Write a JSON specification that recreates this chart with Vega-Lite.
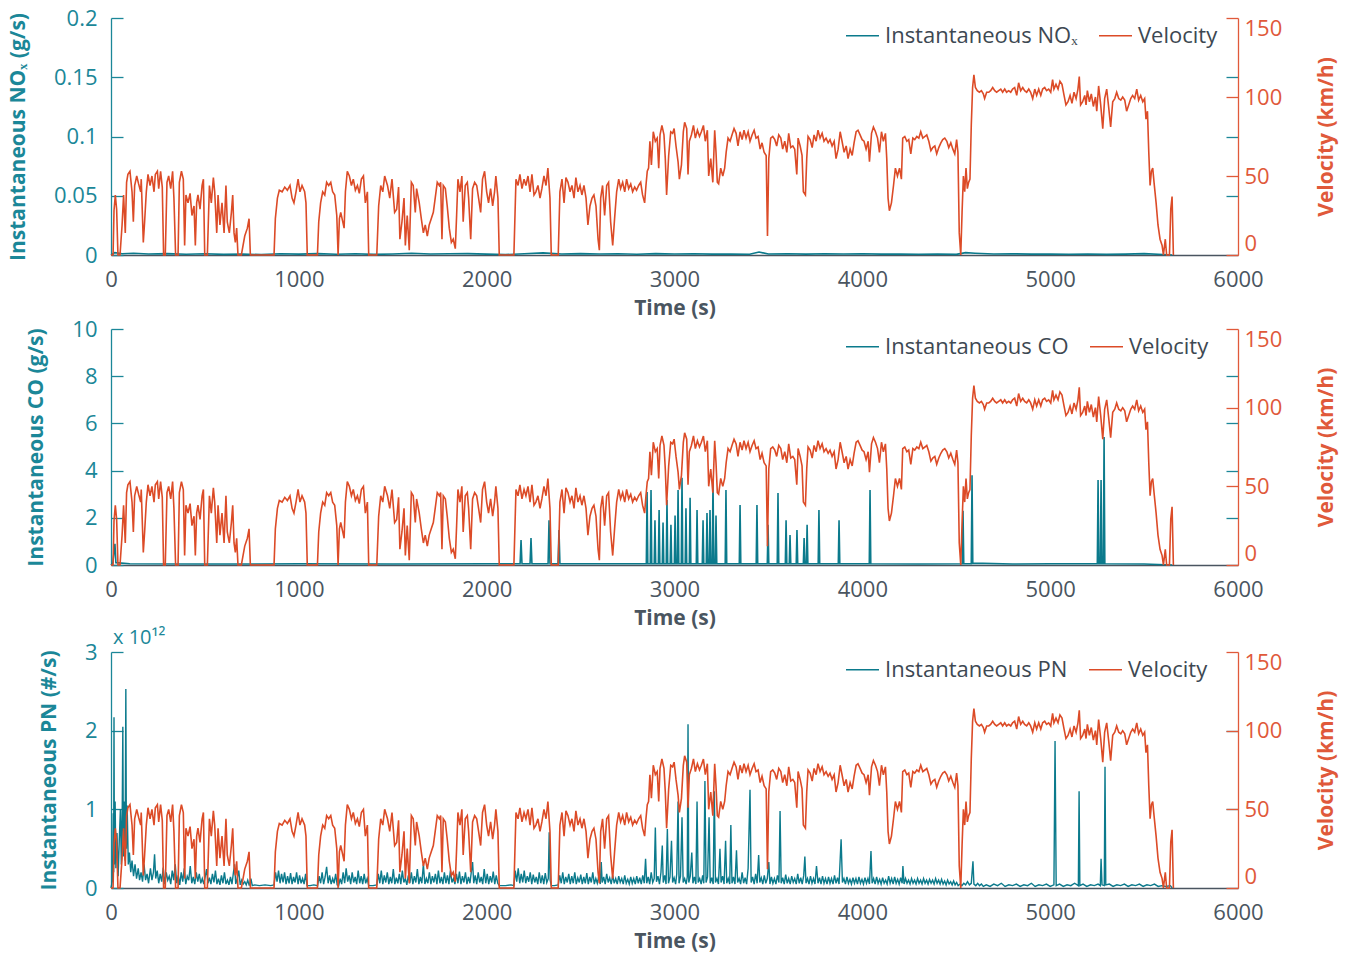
{
  "$schema": "https://vega.github.io/schema/vega-lite/v6.json",
  "background": "white",
  "padding": {"left": 7, "top": 7, "right": 5, "bottom": 5},
  "spacing": 0,
  "resolve": {"scale": {"color": "independent"}, "legend": {"color": "independent"}},
  "config": {
    "font": "Open Sans",
    "view": {"stroke": null},
    "axis": {"grid": false, "labelFont": "Open Sans", "labelFontSize": 22, "titleFont": "Open Sans", "titleFontSize": 21, "titleFontWeight": "bold", "domainWidth": 1.3, "tickWidth": 1.3},
    "axisX": {"format": "d", "ticks": false, "labelFlush": false, "labelPadding": 14, "titlePadding": 7, "domainColor": "#4a5560", "labelColor": "#4a5560", "titleColor": "#4a5560"},
    "legend": {"labelFont": "Open Sans", "orient": "none", "legendX": 734, "legendY": 0, "direction": "horizontal", "title": null, "symbolType": "stroke", "symbolSize": 1089, "symbolStrokeWidth": 1.5, "labelFontSize": 22, "labelColor": "#3d4852", "labelOffset": 5, "columnPadding": 18, "padding": 0, "labelLimit": 0},
    "title": {"font": "Open Sans"}
  },
  "datasets": {
    "vel": [
      {"t":0,"v":0},{"t":5,"v":0},{"t":11,"v":0},{"t":16,"v":28},{"t":23,"v":38},{"t":30,"v":29},{"t":37,"v":0},{"t":48,"v":0},{"t":59,"v":19},{"t":67,"v":38},{"t":76,"v":14},{"t":83,"v":46},{"t":90,"v":51},{"t":101,"v":53},{"t":112,"v":40},{"t":119,"v":21},{"t":126,"v":44},{"t":137,"v":50},{"t":147,"v":45},{"t":158,"v":40},{"t":161,"v":48},{"t":172,"v":8},{"t":179,"v":21},{"t":188,"v":40},{"t":197,"v":51},{"t":208,"v":44},{"t":218,"v":50},{"t":229,"v":40},{"t":236,"v":51},{"t":247,"v":53},{"t":254,"v":42},{"t":264,"v":53},{"t":273,"v":43},{"t":280,"v":0},{"t":289,"v":0},{"t":298,"v":46},{"t":307,"v":50},{"t":318,"v":42},{"t":328,"v":53},{"t":335,"v":36},{"t":344,"v":0},{"t":357,"v":0},{"t":364,"v":46},{"t":375,"v":53},{"t":385,"v":48},{"t":392,"v":6},{"t":399,"v":38},{"t":410,"v":33},{"t":421,"v":39},{"t":431,"v":25},{"t":442,"v":31},{"t":449,"v":6},{"t":456,"v":33},{"t":463,"v":38},{"t":474,"v":29},{"t":485,"v":44},{"t":492,"v":48},{"t":499,"v":0},{"t":513,"v":0},{"t":524,"v":44},{"t":534,"v":33},{"t":545,"v":49},{"t":552,"v":40},{"t":563,"v":14},{"t":570,"v":38},{"t":580,"v":19},{"t":591,"v":33},{"t":602,"v":14},{"t":612,"v":44},{"t":619,"v":21},{"t":630,"v":14},{"t":641,"v":27},{"t":648,"v":38},{"t":655,"v":14},{"t":662,"v":8},{"t":669,"v":17},{"t":676,"v":0},{"t":694,"v":0},{"t":712,"v":12},{"t":726,"v":17},{"t":735,"v":23},{"t":742,"v":0},{"t":868,"v":0},{"t":875,"v":23},{"t":886,"v":36},{"t":896,"v":41},{"t":911,"v":40},{"t":925,"v":43},{"t":939,"v":41},{"t":953,"v":44},{"t":964,"v":36},{"t":974,"v":33},{"t":985,"v":40},{"t":996,"v":48},{"t":1006,"v":40},{"t":1017,"v":44},{"t":1031,"v":40},{"t":1038,"v":33},{"t":1045,"v":0},{"t":1099,"v":0},{"t":1106,"v":21},{"t":1116,"v":33},{"t":1127,"v":40},{"t":1138,"v":38},{"t":1148,"v":46},{"t":1159,"v":44},{"t":1170,"v":46},{"t":1180,"v":40},{"t":1191,"v":38},{"t":1202,"v":25},{"t":1209,"v":0},{"t":1216,"v":23},{"t":1223,"v":27},{"t":1234,"v":21},{"t":1241,"v":17},{"t":1248,"v":40},{"t":1258,"v":53},{"t":1269,"v":50},{"t":1280,"v":44},{"t":1290,"v":48},{"t":1301,"v":41},{"t":1312,"v":44},{"t":1322,"v":39},{"t":1333,"v":48},{"t":1344,"v":50},{"t":1354,"v":33},{"t":1365,"v":40},{"t":1372,"v":0},{"t":1415,"v":0},{"t":1425,"v":31},{"t":1436,"v":44},{"t":1447,"v":40},{"t":1457,"v":50},{"t":1472,"v":44},{"t":1484,"v":36},{"t":1496,"v":48},{"t":1510,"v":27},{"t":1521,"v":29},{"t":1531,"v":43},{"t":1538,"v":10},{"t":1549,"v":21},{"t":1560,"v":36},{"t":1567,"v":6},{"t":1577,"v":25},{"t":1588,"v":3},{"t":1599,"v":46},{"t":1609,"v":44},{"t":1620,"v":27},{"t":1627,"v":42},{"t":1641,"v":33},{"t":1652,"v":23},{"t":1663,"v":14},{"t":1673,"v":19},{"t":1684,"v":12},{"t":1694,"v":19},{"t":1705,"v":23},{"t":1716,"v":27},{"t":1726,"v":36},{"t":1737,"v":46},{"t":1748,"v":44},{"t":1755,"v":46},{"t":1762,"v":10},{"t":1769,"v":44},{"t":1780,"v":42},{"t":1790,"v":31},{"t":1801,"v":17},{"t":1812,"v":8},{"t":1822,"v":10},{"t":1833,"v":4},{"t":1840,"v":25},{"t":1847,"v":48},{"t":1858,"v":40},{"t":1868,"v":50},{"t":1875,"v":21},{"t":1886,"v":44},{"t":1897,"v":46},{"t":1904,"v":36},{"t":1915,"v":10},{"t":1925,"v":42},{"t":1936,"v":46},{"t":1947,"v":44},{"t":1957,"v":36},{"t":1968,"v":27},{"t":1978,"v":48},{"t":1989,"v":53},{"t":2000,"v":40},{"t":2010,"v":33},{"t":2021,"v":42},{"t":2032,"v":31},{"t":2042,"v":40},{"t":2049,"v":50},{"t":2060,"v":36},{"t":2067,"v":0},{"t":2145,"v":0},{"t":2156,"v":48},{"t":2167,"v":44},{"t":2177,"v":51},{"t":2188,"v":42},{"t":2199,"v":48},{"t":2209,"v":44},{"t":2220,"v":50},{"t":2231,"v":40},{"t":2241,"v":51},{"t":2252,"v":38},{"t":2262,"v":40},{"t":2273,"v":44},{"t":2284,"v":36},{"t":2294,"v":42},{"t":2305,"v":50},{"t":2316,"v":44},{"t":2326,"v":55},{"t":2337,"v":36},{"t":2344,"v":0},{"t":2381,"v":0},{"t":2390,"v":40},{"t":2401,"v":48},{"t":2412,"v":33},{"t":2422,"v":49},{"t":2433,"v":46},{"t":2444,"v":40},{"t":2454,"v":44},{"t":2465,"v":36},{"t":2475,"v":49},{"t":2486,"v":40},{"t":2497,"v":44},{"t":2507,"v":38},{"t":2518,"v":44},{"t":2529,"v":36},{"t":2539,"v":19},{"t":2550,"v":31},{"t":2561,"v":36},{"t":2571,"v":38},{"t":2582,"v":31},{"t":2593,"v":10},{"t":2600,"v":3},{"t":2607,"v":36},{"t":2617,"v":44},{"t":2628,"v":25},{"t":2639,"v":44},{"t":2649,"v":46},{"t":2660,"v":21},{"t":2671,"v":6},{"t":2681,"v":23},{"t":2692,"v":40},{"t":2703,"v":48},{"t":2713,"v":42},{"t":2724,"v":46},{"t":2735,"v":40},{"t":2745,"v":48},{"t":2756,"v":42},{"t":2767,"v":45},{"t":2777,"v":40},{"t":2788,"v":43},{"t":2798,"v":41},{"t":2809,"v":44},{"t":2820,"v":46},{"t":2830,"v":38},{"t":2841,"v":33},{"t":2848,"v":44},{"t":2855,"v":53},{"t":2862,"v":55},{"t":2869,"v":72},{"t":2877,"v":57},{"t":2887,"v":78},{"t":2898,"v":72},{"t":2908,"v":74},{"t":2916,"v":55},{"t":2923,"v":76},{"t":2933,"v":82},{"t":2944,"v":76},{"t":2951,"v":61},{"t":2958,"v":38},{"t":2969,"v":63},{"t":2980,"v":78},{"t":2990,"v":77},{"t":2998,"v":80},{"t":3008,"v":69},{"t":3019,"v":59},{"t":3026,"v":48},{"t":3037,"v":57},{"t":3047,"v":78},{"t":3054,"v":84},{"t":3065,"v":80},{"t":3072,"v":51},{"t":3079,"v":72},{"t":3090,"v":76},{"t":3101,"v":82},{"t":3111,"v":74},{"t":3122,"v":79},{"t":3133,"v":75},{"t":3143,"v":78},{"t":3154,"v":82},{"t":3164,"v":72},{"t":3175,"v":79},{"t":3182,"v":50},{"t":3193,"v":61},{"t":3204,"v":46},{"t":3214,"v":79},{"t":3221,"v":65},{"t":3228,"v":46},{"t":3235,"v":45},{"t":3246,"v":55},{"t":3257,"v":50},{"t":3267,"v":55},{"t":3275,"v":65},{"t":3285,"v":74},{"t":3296,"v":72},{"t":3306,"v":76},{"t":3317,"v":80},{"t":3328,"v":77},{"t":3338,"v":69},{"t":3349,"v":78},{"t":3360,"v":73},{"t":3370,"v":79},{"t":3381,"v":74},{"t":3392,"v":78},{"t":3402,"v":72},{"t":3413,"v":76},{"t":3424,"v":79},{"t":3434,"v":74},{"t":3445,"v":75},{"t":3456,"v":67},{"t":3466,"v":71},{"t":3477,"v":65},{"t":3488,"v":63},{"t":3495,"v":12},{"t":3502,"v":61},{"t":3512,"v":74},{"t":3523,"v":75},{"t":3534,"v":73},{"t":3544,"v":69},{"t":3555,"v":76},{"t":3566,"v":74},{"t":3576,"v":67},{"t":3587,"v":72},{"t":3598,"v":65},{"t":3608,"v":77},{"t":3619,"v":68},{"t":3630,"v":69},{"t":3640,"v":67},{"t":3651,"v":51},{"t":3658,"v":74},{"t":3669,"v":69},{"t":3679,"v":63},{"t":3686,"v":40},{"t":3697,"v":38},{"t":3704,"v":61},{"t":3711,"v":75},{"t":3722,"v":73},{"t":3733,"v":68},{"t":3743,"v":76},{"t":3754,"v":72},{"t":3764,"v":79},{"t":3775,"v":74},{"t":3786,"v":77},{"t":3796,"v":72},{"t":3807,"v":74},{"t":3818,"v":71},{"t":3828,"v":73},{"t":3839,"v":69},{"t":3850,"v":72},{"t":3860,"v":61},{"t":3871,"v":67},{"t":3882,"v":78},{"t":3892,"v":72},{"t":3903,"v":65},{"t":3914,"v":69},{"t":3924,"v":61},{"t":3935,"v":67},{"t":3946,"v":63},{"t":3956,"v":71},{"t":3967,"v":78},{"t":3977,"v":79},{"t":3988,"v":76},{"t":3999,"v":73},{"t":4009,"v":72},{"t":4020,"v":67},{"t":4031,"v":72},{"t":4038,"v":59},{"t":4049,"v":77},{"t":4059,"v":81},{"t":4070,"v":78},{"t":4081,"v":74},{"t":4091,"v":65},{"t":4102,"v":78},{"t":4112,"v":72},{"t":4123,"v":77},{"t":4130,"v":61},{"t":4137,"v":36},{"t":4144,"v":28},{"t":4155,"v":33},{"t":4166,"v":44},{"t":4176,"v":55},{"t":4187,"v":50},{"t":4198,"v":55},{"t":4208,"v":48},{"t":4215,"v":74},{"t":4226,"v":75},{"t":4237,"v":72},{"t":4247,"v":73},{"t":4258,"v":64},{"t":4269,"v":74},{"t":4279,"v":73},{"t":4290,"v":75},{"t":4301,"v":74},{"t":4311,"v":78},{"t":4322,"v":74},{"t":4333,"v":75},{"t":4343,"v":76},{"t":4354,"v":72},{"t":4365,"v":66},{"t":4375,"v":68},{"t":4386,"v":69},{"t":4396,"v":64},{"t":4407,"v":68},{"t":4418,"v":71},{"t":4428,"v":73},{"t":4439,"v":74},{"t":4450,"v":72},{"t":4460,"v":68},{"t":4471,"v":71},{"t":4482,"v":67},{"t":4492,"v":64},{"t":4502,"v":73},{"t":4509,"v":65},{"t":4516,"v":14},{"t":4524,"v":0},{"t":4531,"v":27},{"t":4538,"v":50},{"t":4545,"v":40},{"t":4552,"v":55},{"t":4559,"v":42},{"t":4566,"v":46},{"t":4573,"v":48},{"t":4580,"v":82},{"t":4587,"v":106},{"t":4594,"v":114},{"t":4602,"v":106},{"t":4612,"v":104},{"t":4623,"v":103},{"t":4634,"v":104},{"t":4644,"v":102},{"t":4651,"v":99},{"t":4662,"v":103},{"t":4673,"v":103},{"t":4683,"v":104},{"t":4694,"v":106},{"t":4705,"v":104},{"t":4715,"v":103},{"t":4726,"v":104},{"t":4737,"v":105},{"t":4747,"v":103},{"t":4758,"v":105},{"t":4768,"v":103},{"t":4779,"v":104},{"t":4790,"v":103},{"t":4800,"v":105},{"t":4811,"v":106},{"t":4822,"v":101},{"t":4832,"v":109},{"t":4843,"v":104},{"t":4854,"v":106},{"t":4864,"v":104},{"t":4875,"v":103},{"t":4886,"v":105},{"t":4896,"v":103},{"t":4907,"v":99},{"t":4918,"v":105},{"t":4928,"v":101},{"t":4939,"v":105},{"t":4950,"v":101},{"t":4960,"v":105},{"t":4971,"v":106},{"t":4981,"v":104},{"t":4992,"v":105},{"t":5003,"v":103},{"t":5013,"v":111},{"t":5020,"v":105},{"t":5031,"v":108},{"t":5042,"v":105},{"t":5052,"v":110},{"t":5063,"v":108},{"t":5074,"v":101},{"t":5084,"v":95},{"t":5095,"v":97},{"t":5106,"v":101},{"t":5116,"v":96},{"t":5127,"v":103},{"t":5138,"v":99},{"t":5148,"v":105},{"t":5155,"v":113},{"t":5162,"v":95},{"t":5173,"v":97},{"t":5184,"v":101},{"t":5191,"v":95},{"t":5198,"v":104},{"t":5209,"v":97},{"t":5219,"v":102},{"t":5230,"v":94},{"t":5241,"v":100},{"t":5248,"v":91},{"t":5258,"v":107},{"t":5269,"v":95},{"t":5280,"v":80},{"t":5290,"v":99},{"t":5301,"v":105},{"t":5312,"v":93},{"t":5322,"v":81},{"t":5333,"v":97},{"t":5344,"v":99},{"t":5354,"v":103},{"t":5365,"v":99},{"t":5376,"v":98},{"t":5386,"v":100},{"t":5397,"v":98},{"t":5407,"v":91},{"t":5418,"v":95},{"t":5429,"v":99},{"t":5439,"v":101},{"t":5450,"v":99},{"t":5461,"v":105},{"t":5471,"v":98},{"t":5482,"v":101},{"t":5493,"v":97},{"t":5503,"v":99},{"t":5510,"v":86},{"t":5518,"v":91},{"t":5525,"v":65},{"t":5532,"v":44},{"t":5539,"v":53},{"t":5546,"v":55},{"t":5553,"v":46},{"t":5564,"v":33},{"t":5574,"v":19},{"t":5585,"v":10},{"t":5596,"v":6},{"t":5603,"v":0},{"t":5613,"v":10},{"t":5620,"v":0},{"t":5635,"v":0},{"t":5642,"v":29},{"t":5649,"v":37},{"t":5656,"v":0}
    ],
    "nox": [
      {"t":0,"e":0},{"t":20,"e":0.002},{"t":60,"e":0.001},{"t":120,"e":0.0015},{"t":200,"e":0.0008},{"t":300,"e":0.0012},{"t":400,"e":0.0006},{"t":500,"e":0.001},{"t":600,"e":0.0005},{"t":700,"e":0.0008},{"t":800,"e":0.0003},{"t":900,"e":0.001},{"t":1000,"e":0.0007},{"t":1100,"e":0.0012},{"t":1200,"e":0.0006},{"t":1300,"e":0.001},{"t":1400,"e":0.0005},{"t":1500,"e":0.0009},{"t":1600,"e":0.0015},{"t":1700,"e":0.0008},{"t":1800,"e":0.001},{"t":1900,"e":0.0012},{"t":2000,"e":0.0007},{"t":2100,"e":0.0004},{"t":2200,"e":0.001},{"t":2300,"e":0.0018},{"t":2400,"e":0.0009},{"t":2500,"e":0.0012},{"t":2600,"e":0.0008},{"t":2700,"e":0.001},{"t":2800,"e":0.0006},{"t":2900,"e":0.0012},{"t":3000,"e":0.0008},{"t":3100,"e":0.001},{"t":3200,"e":0.0007},{"t":3300,"e":0.0009},{"t":3400,"e":0.0006},{"t":3450,"e":0.0025},{"t":3500,"e":0.0008},{"t":3600,"e":0.001},{"t":3700,"e":0.0007},{"t":3800,"e":0.0011},{"t":3900,"e":0.0008},{"t":4000,"e":0.001},{"t":4100,"e":0.0007},{"t":4200,"e":0.0009},{"t":4300,"e":0.0006},{"t":4400,"e":0.0008},{"t":4500,"e":0.0005},{"t":4550,"e":0.002},{"t":4600,"e":0.0015},{"t":4700,"e":0.0008},{"t":4800,"e":0.001},{"t":4900,"e":0.0007},{"t":5000,"e":0.0009},{"t":5100,"e":0.0006},{"t":5200,"e":0.0008},{"t":5300,"e":0.0005},{"t":5400,"e":0.0007},{"t":5500,"e":0.0012},{"t":5600,"e":0.0004},{"t":5650,"e":0}
    ],
    "co": [
      {"t":0,"e":0},{"t":10,"e":0.1},{"t":21,"e":0.9},{"t":26,"e":0.1},{"t":100,"e":0.05},{"t":500,"e":0.04},{"t":1000,"e":0.05},{"t":1500,"e":0.04},{"t":2000,"e":0.05},{"t":2178,"e":0.05},{"t":2183,"e":1.06},{"t":2188,"e":0.05},{"t":2231,"e":0.05},{"t":2236,"e":1.14},{"t":2241,"e":0.05},{"t":2327,"e":0.05},{"t":2332,"e":1.9},{"t":2337,"e":0.05},{"t":2380,"e":0.05},{"t":2385,"e":1.48},{"t":2390,"e":0.05},{"t":2700,"e":0.05},{"t":2850,"e":0.05},{"t":2854,"e":3.09},{"t":2858,"e":0.05},{"t":2871,"e":0.05},{"t":2875,"e":3.18},{"t":2879,"e":0.05},{"t":2892,"e":0.05},{"t":2896,"e":1.9},{"t":2900,"e":0.05},{"t":2914,"e":0.05},{"t":2918,"e":2.33},{"t":2922,"e":0.05},{"t":2935,"e":0.05},{"t":2939,"e":1.8},{"t":2943,"e":0.05},{"t":2956,"e":0.05},{"t":2960,"e":2.75},{"t":2964,"e":0.05},{"t":2977,"e":0.05},{"t":2981,"e":1.7},{"t":2985,"e":0.05},{"t":2999,"e":0.05},{"t":3003,"e":2.1},{"t":3007,"e":0.05},{"t":3015,"e":0.05},{"t":3019,"e":3.18},{"t":3023,"e":0.05},{"t":3036,"e":0.05},{"t":3040,"e":3.7},{"t":3044,"e":0.05},{"t":3057,"e":0.05},{"t":3061,"e":2.4},{"t":3065,"e":0.05},{"t":3079,"e":0.05},{"t":3083,"e":2.85},{"t":3087,"e":0.05},{"t":3116,"e":0.05},{"t":3120,"e":2.33},{"t":3124,"e":0.05},{"t":3148,"e":0.05},{"t":3152,"e":1.9},{"t":3156,"e":0.05},{"t":3169,"e":0.05},{"t":3173,"e":2.2},{"t":3177,"e":0.05},{"t":3185,"e":0.05},{"t":3189,"e":2.33},{"t":3193,"e":0.05},{"t":3201,"e":0.05},{"t":3205,"e":3.6},{"t":3209,"e":0.05},{"t":3217,"e":0.05},{"t":3221,"e":2.1},{"t":3225,"e":0.05},{"t":3270,"e":0.05},{"t":3274,"e":3.18},{"t":3278,"e":0.05},{"t":3345,"e":0.05},{"t":3349,"e":2.54},{"t":3353,"e":0.05},{"t":3435,"e":0.05},{"t":3439,"e":2.54},{"t":3443,"e":0.05},{"t":3494,"e":0.05},{"t":3498,"e":1.7},{"t":3502,"e":0.05},{"t":3547,"e":0.05},{"t":3551,"e":3.05},{"t":3555,"e":0.05},{"t":3590,"e":0.05},{"t":3594,"e":1.9},{"t":3598,"e":0.05},{"t":3611,"e":0.05},{"t":3615,"e":1.27},{"t":3619,"e":0.05},{"t":3648,"e":0.05},{"t":3652,"e":1.48},{"t":3656,"e":0.05},{"t":3686,"e":0.05},{"t":3690,"e":1.14},{"t":3694,"e":0.05},{"t":3702,"e":0.05},{"t":3706,"e":1.7},{"t":3710,"e":0.05},{"t":3765,"e":0.05},{"t":3769,"e":2.33},{"t":3773,"e":0.05},{"t":3872,"e":0.05},{"t":3876,"e":1.9},{"t":3880,"e":0.05},{"t":4037,"e":0.05},{"t":4041,"e":3.18},{"t":4045,"e":0.05},{"t":4300,"e":0.04},{"t":4532,"e":0.05},{"t":4536,"e":2.3},{"t":4540,"e":0.05},{"t":4580,"e":0.05},{"t":4584,"e":3.8},{"t":4588,"e":0.08},{"t":4800,"e":0.04},{"t":5000,"e":0.05},{"t":5251,"e":0.05},{"t":5255,"e":3.6},{"t":5259,"e":0.05},{"t":5267,"e":0.05},{"t":5271,"e":3.6},{"t":5275,"e":0.05},{"t":5283,"e":0.05},{"t":5287,"e":5.42},{"t":5291,"e":0.05},{"t":5500,"e":0.04},{"t":5650,"e":0}
    ],
    "pn": [
      {"t":0,"e":0},{"t":8,"e":0.1},{"t":12,"e":0.95},{"t":14,"e":0.2},{"t":16,"e":2.17},{"t":18,"e":0.3},{"t":22,"e":1.1},{"t":26,"e":0.25},{"t":32,"e":0.7},{"t":38,"e":0.15},{"t":44,"e":0.6},{"t":50,"e":1.0},{"t":55,"e":0.3},{"t":60,"e":1.05},{"t":63,"e":2.05},{"t":66,"e":0.4},{"t":70,"e":1.1},{"t":75,"e":0.35},{"t":79,"e":2.53},{"t":82,"e":0.5},{"t":86,"e":1.05},{"t":92,"e":0.3},{"t":98,"e":0.45},{"t":105,"e":0.2},{"t":112,"e":0.35},{"t":120,"e":0.15},{"t":128,"e":0.3},{"t":136,"e":0.12},{"t":145,"e":0.25},{"t":152,"e":0.1},{"t":160,"e":0.2},{"t":168,"e":0.08},{"t":176,"e":0.3},{"t":184,"e":0.1},{"t":192,"e":0.18},{"t":200,"e":0.06},{"t":210,"e":0.25},{"t":218,"e":0.1},{"t":226,"e":0.2},{"t":232,"e":0.43},{"t":238,"e":0.12},{"t":246,"e":0.22},{"t":254,"e":0.06},{"t":262,"e":0.18},{"t":270,"e":0.08},{"t":278,"e":0.26},{"t":286,"e":0.05},{"t":294,"e":0.2},{"t":302,"e":0.1},{"t":310,"e":0.15},{"t":318,"e":0.05},{"t":326,"e":0.22},{"t":334,"e":0.1},{"t":342,"e":0.3},{"t":350,"e":0.06},{"t":358,"e":0.16},{"t":366,"e":0.04},{"t":374,"e":0.2},{"t":382,"e":0.08},{"t":390,"e":0.25},{"t":398,"e":0.05},{"t":406,"e":0.15},{"t":414,"e":0.1},{"t":422,"e":0.28},{"t":430,"e":0.06},{"t":438,"e":0.14},{"t":446,"e":0.05},{"t":454,"e":0.2},{"t":462,"e":0.08},{"t":470,"e":0.18},{"t":478,"e":0.06},{"t":486,"e":0.12},{"t":494,"e":0.05},{"t":502,"e":0.15},{"t":509,"e":0.24},{"t":516,"e":0.06},{"t":524,"e":0.13},{"t":532,"e":0.05},{"t":540,"e":0.18},{"t":548,"e":0.07},{"t":556,"e":0.22},{"t":564,"e":0.05},{"t":572,"e":0.12},{"t":580,"e":0.04},{"t":588,"e":0.16},{"t":596,"e":0.06},{"t":604,"e":0.2},{"t":612,"e":0.05},{"t":620,"e":0.1},{"t":628,"e":0.04},{"t":636,"e":0.14},{"t":644,"e":0.05},{"t":652,"e":0.2},{"t":658,"e":0.3},{"t":664,"e":0.05},{"t":672,"e":0.12},{"t":680,"e":0.22},{"t":688,"e":0.04},{"t":696,"e":0.1},{"t":704,"e":0.05},{"t":712,"e":0.08},{"t":720,"e":0.04},{"t":728,"e":0.1},{"t":736,"e":0.03},{"t":745,"e":0.12},{"t":752,"e":0.03},{"t":765,"e":0.04},{"t":790,"e":0.03},{"t":820,"e":0.04},{"t":850,"e":0.03},{"t":868,"e":0.04},{"t":876,"e":0.2},{"t":884,"e":0.08},{"t":892,"e":0.22},{"t":900,"e":0.06},{"t":908,"e":0.18},{"t":916,"e":0.07},{"t":924,"e":0.2},{"t":932,"e":0.05},{"t":940,"e":0.15},{"t":948,"e":0.06},{"t":956,"e":0.19},{"t":964,"e":0.05},{"t":972,"e":0.14},{"t":980,"e":0.07},{"t":988,"e":0.2},{"t":996,"e":0.05},{"t":1004,"e":0.16},{"t":1012,"e":0.06},{"t":1020,"e":0.12},{"t":1028,"e":0.05},{"t":1036,"e":0.18},{"t":1044,"e":0.03},{"t":1060,"e":0.03},{"t":1080,"e":0.04},{"t":1100,"e":0.03},{"t":1108,"e":0.15},{"t":1116,"e":0.06},{"t":1124,"e":0.2},{"t":1132,"e":0.05},{"t":1140,"e":0.14},{"t":1148,"e":0.27},{"t":1156,"e":0.06},{"t":1164,"e":0.16},{"t":1172,"e":0.05},{"t":1180,"e":0.12},{"t":1188,"e":0.06},{"t":1196,"e":0.18},{"t":1204,"e":0.04},{"t":1212,"e":0.03},{"t":1220,"e":0.12},{"t":1228,"e":0.05},{"t":1236,"e":0.2},{"t":1244,"e":0.06},{"t":1252,"e":0.25},{"t":1260,"e":0.08},{"t":1268,"e":0.16},{"t":1276,"e":0.05},{"t":1284,"e":0.2},{"t":1292,"e":0.07},{"t":1300,"e":0.14},{"t":1308,"e":0.05},{"t":1316,"e":0.22},{"t":1324,"e":0.06},{"t":1332,"e":0.15},{"t":1340,"e":0.05},{"t":1348,"e":0.18},{"t":1356,"e":0.06},{"t":1364,"e":0.12},{"t":1372,"e":0.03},{"t":1395,"e":0.03},{"t":1415,"e":0.04},{"t":1423,"e":0.18},{"t":1431,"e":0.06},{"t":1439,"e":0.22},{"t":1447,"e":0.05},{"t":1455,"e":0.16},{"t":1463,"e":0.07},{"t":1471,"e":0.2},{"t":1479,"e":0.05},{"t":1487,"e":0.14},{"t":1495,"e":0.06},{"t":1503,"e":0.24},{"t":1511,"e":0.05},{"t":1519,"e":0.13},{"t":1527,"e":0.06},{"t":1535,"e":0.18},{"t":1543,"e":0.05},{"t":1551,"e":0.22},{"t":1559,"e":0.07},{"t":1567,"e":0.12},{"t":1575,"e":0.04},{"t":1583,"e":0.16},{"t":1591,"e":0.06},{"t":1599,"e":0.2},{"t":1607,"e":0.05},{"t":1615,"e":0.15},{"t":1623,"e":0.07},{"t":1631,"e":0.24},{"t":1639,"e":0.05},{"t":1647,"e":0.14},{"t":1655,"e":0.06},{"t":1663,"e":0.3},{"t":1671,"e":0.05},{"t":1679,"e":0.12},{"t":1687,"e":0.06},{"t":1695,"e":0.2},{"t":1703,"e":0.05},{"t":1711,"e":0.15},{"t":1719,"e":0.07},{"t":1727,"e":0.18},{"t":1735,"e":0.05},{"t":1743,"e":0.22},{"t":1751,"e":0.06},{"t":1759,"e":0.14},{"t":1767,"e":0.05},{"t":1775,"e":0.2},{"t":1783,"e":0.06},{"t":1791,"e":0.16},{"t":1799,"e":0.05},{"t":1807,"e":0.22},{"t":1815,"e":0.07},{"t":1823,"e":0.12},{"t":1831,"e":0.05},{"t":1839,"e":0.18},{"t":1847,"e":0.06},{"t":1855,"e":0.21},{"t":1863,"e":0.05},{"t":1871,"e":0.15},{"t":1879,"e":0.07},{"t":1887,"e":0.2},{"t":1895,"e":0.05},{"t":1903,"e":0.14},{"t":1911,"e":0.06},{"t":1919,"e":0.22},{"t":1925,"e":0.33},{"t":1931,"e":0.06},{"t":1939,"e":0.16},{"t":1947,"e":0.05},{"t":1955,"e":0.2},{"t":1963,"e":0.07},{"t":1971,"e":0.14},{"t":1979,"e":0.05},{"t":1987,"e":0.24},{"t":1995,"e":0.06},{"t":2003,"e":0.18},{"t":2011,"e":0.05},{"t":2019,"e":0.15},{"t":2027,"e":0.07},{"t":2035,"e":0.21},{"t":2043,"e":0.05},{"t":2051,"e":0.16},{"t":2059,"e":0.06},{"t":2067,"e":0.03},{"t":2100,"e":0.03},{"t":2130,"e":0.04},{"t":2145,"e":0.03},{"t":2152,"e":0.22},{"t":2160,"e":0.08},{"t":2168,"e":0.25},{"t":2176,"e":0.06},{"t":2184,"e":0.18},{"t":2192,"e":0.07},{"t":2200,"e":0.22},{"t":2208,"e":0.06},{"t":2216,"e":0.15},{"t":2224,"e":0.08},{"t":2232,"e":0.2},{"t":2240,"e":0.05},{"t":2248,"e":0.17},{"t":2256,"e":0.07},{"t":2264,"e":0.14},{"t":2272,"e":0.05},{"t":2280,"e":0.2},{"t":2288,"e":0.06},{"t":2296,"e":0.16},{"t":2304,"e":0.05},{"t":2312,"e":0.19},{"t":2320,"e":0.07},{"t":2328,"e":0.12},{"t":2333,"e":0.71},{"t":2338,"e":0.1},{"t":2344,"e":0.03},{"t":2360,"e":0.03},{"t":2381,"e":0.04},{"t":2389,"e":0.16},{"t":2397,"e":0.06},{"t":2405,"e":0.2},{"t":2413,"e":0.05},{"t":2421,"e":0.14},{"t":2429,"e":0.07},{"t":2437,"e":0.18},{"t":2445,"e":0.05},{"t":2453,"e":0.15},{"t":2461,"e":0.06},{"t":2469,"e":0.2},{"t":2477,"e":0.05},{"t":2485,"e":0.13},{"t":2493,"e":0.07},{"t":2501,"e":0.17},{"t":2509,"e":0.05},{"t":2517,"e":0.14},{"t":2525,"e":0.06},{"t":2533,"e":0.19},{"t":2541,"e":0.05},{"t":2549,"e":0.14},{"t":2557,"e":0.07},{"t":2565,"e":0.2},{"t":2573,"e":0.05},{"t":2581,"e":0.12},{"t":2589,"e":0.06},{"t":2597,"e":0.15},{"t":2605,"e":0.05},{"t":2610,"e":0.33},{"t":2615,"e":0.07},{"t":2623,"e":0.14},{"t":2631,"e":0.05},{"t":2639,"e":0.18},{"t":2647,"e":0.07},{"t":2655,"e":0.13},{"t":2663,"e":0.05},{"t":2671,"e":0.16},{"t":2679,"e":0.06},{"t":2687,"e":0.12},{"t":2695,"e":0.05},{"t":2703,"e":0.15},{"t":2711,"e":0.07},{"t":2719,"e":0.12},{"t":2727,"e":0.05},{"t":2735,"e":0.16},{"t":2743,"e":0.06},{"t":2751,"e":0.11},{"t":2759,"e":0.05},{"t":2767,"e":0.14},{"t":2775,"e":0.06},{"t":2783,"e":0.12},{"t":2791,"e":0.05},{"t":2799,"e":0.15},{"t":2807,"e":0.06},{"t":2815,"e":0.13},{"t":2823,"e":0.05},{"t":2831,"e":0.16},{"t":2839,"e":0.06},{"t":2846,"e":0.37},{"t":2852,"e":0.06},{"t":2860,"e":0.14},{"t":2868,"e":0.05},{"t":2876,"e":0.2},{"t":2884,"e":0.07},{"t":2892,"e":0.12},{"t":2898,"e":0.77},{"t":2904,"e":0.08},{"t":2912,"e":0.15},{"t":2920,"e":0.05},{"t":2928,"e":0.2},{"t":2935,"e":0.54},{"t":2940,"e":0.07},{"t":2948,"e":0.16},{"t":2955,"e":0.05},{"t":2962,"e":0.75},{"t":2968,"e":0.06},{"t":2976,"e":0.14},{"t":2984,"e":0.6},{"t":2990,"e":0.07},{"t":2998,"e":0.13},{"t":3006,"e":0.05},{"t":3012,"e":0.18},{"t":3019,"e":1.1},{"t":3024,"e":0.06},{"t":3032,"e":0.15},{"t":3040,"e":0.9},{"t":3046,"e":0.07},{"t":3054,"e":0.12},{"t":3062,"e":0.05},{"t":3068,"e":0.14},{"t":3072,"e":2.08},{"t":3076,"e":0.07},{"t":3084,"e":0.15},{"t":3092,"e":0.45},{"t":3098,"e":0.06},{"t":3106,"e":0.14},{"t":3114,"e":0.05},{"t":3120,"e":1.1},{"t":3126,"e":0.07},{"t":3134,"e":0.12},{"t":3142,"e":0.05},{"t":3150,"e":0.16},{"t":3156,"e":0.06},{"t":3162,"e":1.36},{"t":3168,"e":0.07},{"t":3176,"e":0.14},{"t":3184,"e":0.9},{"t":3190,"e":0.06},{"t":3198,"e":0.13},{"t":3206,"e":0.05},{"t":3212,"e":1.23},{"t":3218,"e":0.07},{"t":3226,"e":0.12},{"t":3234,"e":0.05},{"t":3242,"e":0.5},{"t":3248,"e":0.07},{"t":3256,"e":0.15},{"t":3264,"e":0.05},{"t":3272,"e":0.6},{"t":3278,"e":0.06},{"t":3286,"e":0.12},{"t":3294,"e":0.05},{"t":3300,"e":0.8},{"t":3306,"e":0.06},{"t":3314,"e":0.14},{"t":3322,"e":0.05},{"t":3330,"e":0.48},{"t":3336,"e":0.07},{"t":3344,"e":0.12},{"t":3352,"e":0.05},{"t":3360,"e":0.2},{"t":3368,"e":0.06},{"t":3376,"e":0.13},{"t":3384,"e":0.05},{"t":3392,"e":0.25},{"t":3402,"e":1.25},{"t":3408,"e":0.07},{"t":3416,"e":0.14},{"t":3424,"e":0.05},{"t":3432,"e":0.18},{"t":3440,"e":0.06},{"t":3448,"e":0.42},{"t":3454,"e":0.07},{"t":3462,"e":0.13},{"t":3470,"e":0.05},{"t":3478,"e":0.16},{"t":3486,"e":0.06},{"t":3494,"e":0.12},{"t":3502,"e":0.33},{"t":3508,"e":0.05},{"t":3516,"e":0.14},{"t":3524,"e":0.06},{"t":3532,"e":0.12},{"t":3540,"e":0.05},{"t":3548,"e":0.16},{"t":3556,"e":0.07},{"t":3562,"e":0.98},{"t":3568,"e":0.06},{"t":3576,"e":0.13},{"t":3584,"e":0.05},{"t":3592,"e":0.17},{"t":3600,"e":0.06},{"t":3608,"e":0.12},{"t":3616,"e":0.05},{"t":3624,"e":0.15},{"t":3632,"e":0.07},{"t":3640,"e":0.12},{"t":3648,"e":0.05},{"t":3656,"e":0.18},{"t":3664,"e":0.06},{"t":3672,"e":0.13},{"t":3680,"e":0.05},{"t":3688,"e":0.16},{"t":3694,"e":0.4},{"t":3700,"e":0.06},{"t":3708,"e":0.12},{"t":3716,"e":0.05},{"t":3724,"e":0.15},{"t":3732,"e":0.06},{"t":3740,"e":0.12},{"t":3748,"e":0.05},{"t":3756,"e":0.28},{"t":3764,"e":0.06},{"t":3772,"e":0.13},{"t":3780,"e":0.05},{"t":3788,"e":0.15},{"t":3796,"e":0.06},{"t":3804,"e":0.12},{"t":3812,"e":0.05},{"t":3820,"e":0.14},{"t":3828,"e":0.06},{"t":3836,"e":0.12},{"t":3844,"e":0.05},{"t":3852,"e":0.16},{"t":3860,"e":0.06},{"t":3868,"e":0.13},{"t":3876,"e":0.05},{"t":3887,"e":0.62},{"t":3894,"e":0.07},{"t":3902,"e":0.12},{"t":3910,"e":0.05},{"t":3918,"e":0.14},{"t":3926,"e":0.06},{"t":3934,"e":0.11},{"t":3942,"e":0.05},{"t":3950,"e":0.13},{"t":3958,"e":0.06},{"t":3966,"e":0.12},{"t":3974,"e":0.05},{"t":3982,"e":0.14},{"t":3990,"e":0.06},{"t":3998,"e":0.11},{"t":4006,"e":0.05},{"t":4014,"e":0.13},{"t":4022,"e":0.06},{"t":4030,"e":0.12},{"t":4038,"e":0.05},{"t":4046,"e":0.47},{"t":4052,"e":0.06},{"t":4060,"e":0.12},{"t":4068,"e":0.05},{"t":4076,"e":0.14},{"t":4084,"e":0.06},{"t":4092,"e":0.11},{"t":4100,"e":0.05},{"t":4108,"e":0.13},{"t":4116,"e":0.06},{"t":4124,"e":0.1},{"t":4132,"e":0.05},{"t":4140,"e":0.15},{"t":4148,"e":0.06},{"t":4156,"e":0.12},{"t":4164,"e":0.05},{"t":4172,"e":0.14},{"t":4180,"e":0.06},{"t":4188,"e":0.11},{"t":4196,"e":0.05},{"t":4204,"e":0.13},{"t":4212,"e":0.06},{"t":4216,"e":0.28},{"t":4222,"e":0.05},{"t":4230,"e":0.12},{"t":4238,"e":0.06},{"t":4246,"e":0.1},{"t":4254,"e":0.05},{"t":4262,"e":0.12},{"t":4270,"e":0.06},{"t":4278,"e":0.1},{"t":4286,"e":0.05},{"t":4294,"e":0.12},{"t":4302,"e":0.06},{"t":4310,"e":0.1},{"t":4318,"e":0.05},{"t":4326,"e":0.12},{"t":4334,"e":0.06},{"t":4342,"e":0.1},{"t":4350,"e":0.05},{"t":4358,"e":0.11},{"t":4366,"e":0.06},{"t":4374,"e":0.1},{"t":4382,"e":0.05},{"t":4390,"e":0.12},{"t":4398,"e":0.06},{"t":4406,"e":0.1},{"t":4414,"e":0.05},{"t":4422,"e":0.11},{"t":4430,"e":0.05},{"t":4438,"e":0.09},{"t":4446,"e":0.04},{"t":4454,"e":0.1},{"t":4462,"e":0.05},{"t":4470,"e":0.08},{"t":4478,"e":0.04},{"t":4486,"e":0.09},{"t":4494,"e":0.04},{"t":4502,"e":0.07},{"t":4510,"e":0.03},{"t":4520,"e":0.05},{"t":4530,"e":0.03},{"t":4540,"e":0.06},{"t":4550,"e":0.04},{"t":4560,"e":0.08},{"t":4570,"e":0.04},{"t":4580,"e":0.06},{"t":4589,"e":0.34},{"t":4594,"e":0.05},{"t":4604,"e":0.03},{"t":4614,"e":0.06},{"t":4624,"e":0.03},{"t":4634,"e":0.05},{"t":4644,"e":0.02},{"t":4660,"e":0.04},{"t":4680,"e":0.02},{"t":4700,"e":0.05},{"t":4720,"e":0.03},{"t":4740,"e":0.06},{"t":4760,"e":0.02},{"t":4780,"e":0.04},{"t":4800,"e":0.03},{"t":4820,"e":0.05},{"t":4840,"e":0.02},{"t":4860,"e":0.04},{"t":4880,"e":0.03},{"t":4900,"e":0.06},{"t":4920,"e":0.02},{"t":4940,"e":0.04},{"t":4960,"e":0.03},{"t":4980,"e":0.05},{"t":5000,"e":0.02},{"t":5020,"e":0.04},{"t":5026,"e":1.87},{"t":5032,"e":0.03},{"t":5050,"e":0.05},{"t":5070,"e":0.02},{"t":5090,"e":0.04},{"t":5110,"e":0.03},{"t":5130,"e":0.06},{"t":5150,"e":0.03},{"t":5154,"e":1.23},{"t":5158,"e":0.03},{"t":5175,"e":0.05},{"t":5195,"e":0.02},{"t":5215,"e":0.04},{"t":5235,"e":0.03},{"t":5255,"e":0.05},{"t":5267,"e":0.03},{"t":5271,"e":0.37},{"t":5276,"e":0.04},{"t":5288,"e":0.03},{"t":5292,"e":1.54},{"t":5296,"e":0.04},{"t":5315,"e":0.05},{"t":5335,"e":0.02},{"t":5355,"e":0.04},{"t":5375,"e":0.03},{"t":5395,"e":0.05},{"t":5415,"e":0.02},{"t":5435,"e":0.04},{"t":5455,"e":0.03},{"t":5475,"e":0.05},{"t":5495,"e":0.02},{"t":5515,"e":0.04},{"t":5535,"e":0.03},{"t":5555,"e":0.05},{"t":5575,"e":0.02},{"t":5595,"e":0.03},{"t":5615,"e":0.02},{"t":5640,"e":0.03},{"t":5650,"e":0}
    ]
  },
  "vconcat": [
    {
      "width": 1127, "height": 237,
      "resolve": {"scale": {"y": "independent"}},
      "layer": [
        {
          "data": {"name": "nox"},
          "resolve": {"axis": {"y": "independent"}},
          "layer": [
            {
              "mark": {"type": "line", "strokeWidth": 1.6},
              "encoding": {
                "x": {"field": "t", "type": "quantitative", "scale": {"domain": [0, 6000], "nice": false}, "axis": {"title": "Time (s)", "values": [0,1000,2000,3000,4000,5000,6000]}},
                "y": {"field": "e", "type": "quantitative", "scale": {"domain": [0, 0.2], "nice": false},
                  "axis": {"orient": "left", "title": "Instantaneous NOₓ (g/s)", "values": [0,0.05,0.1,0.15,0.2], "format": "~g", "domainColor": "#1b8798", "tickColor": "#1b8798", "labelColor": "#1b8798", "titleColor": "#1b8798", "tickSize": -12, "labelPadding": 26, "titlePadding": 25}},
                "color": {"datum": "Instantaneous NOₓ", "scale": {"domain": ["Instantaneous NOₓ", "Velocity"], "range": ["#0b7a8c", "#dc4b27"]}}
              }
            },
            {
              "mark": {"type": "line", "opacity": 0},
              "encoding": {
                "x": {"field": "t", "type": "quantitative", "scale": {"domain": [0, 6000], "nice": false}, "axis": {"title": "Time (s)", "values": [0,1000,2000,3000,4000,5000,6000]}},
                "y": {"field": "e", "type": "quantitative",
                  "axis": {"orient": "right", "title": null, "labels": false, "domain": false, "values": [0.05,0.1,0.15], "tickColor": "#1b8798", "tickSize": -12, "labelPadding": 0}}
              }
            }
          ]
        },
        {
          "data": {"name": "vel"},
          "mark": {"type": "line", "strokeWidth": 1.6},
          "encoding": {
            "x": {"field": "t", "type": "quantitative", "scale": {"domain": [0, 6000], "nice": false}, "axis": {"title": "Time (s)", "values": [0,1000,2000,3000,4000,5000,6000]}},
            "y": {"field": "v", "type": "quantitative", "scale": {"domain": [0, 150], "nice": false},
              "axis": {"orient": "right", "title": "Velocity (km/h)", "titleAngle": 270, "titleBaseline": "top", "values": [0,50,100,150], "labelFlush": true, "domainColor": "#e0593a", "tickColor": "#e0593a", "labelColor": "#e0593a", "titleColor": "#e0593a", "tickSize": -12, "labelPadding": 18, "titlePadding": 34}},
            "color": {"datum": "Velocity"}
          }
        }
      ]
    },
    {
      "width": 1127, "height": 236,
      "resolve": {"scale": {"y": "independent"}},
      "layer": [
        {
          "data": {"name": "co"},
          "resolve": {"axis": {"y": "independent"}},
          "layer": [
            {
              "mark": {"type": "line", "strokeWidth": 1.6},
              "encoding": {
                "x": {"field": "t", "type": "quantitative", "scale": {"domain": [0, 6000], "nice": false}, "axis": {"title": "Time (s)", "values": [0,1000,2000,3000,4000,5000,6000]}},
                "y": {"field": "e", "type": "quantitative", "scale": {"domain": [0, 10], "nice": false},
                  "axis": {"orient": "left", "title": "Instantaneous CO (g/s)", "values": [0,2,4,6,8,10], "domainColor": "#1b8798", "tickColor": "#1b8798", "labelColor": "#1b8798", "titleColor": "#1b8798", "tickSize": -12, "labelPadding": 26, "titlePadding": 25}},
                "color": {"datum": "Instantaneous CO", "scale": {"domain": ["Instantaneous CO", "Velocity"], "range": ["#0b7a8c", "#dc4b27"]}}
              }
            },
            {
              "mark": {"type": "line", "opacity": 0},
              "encoding": {
                "x": {"field": "t", "type": "quantitative", "scale": {"domain": [0, 6000], "nice": false}, "axis": {"title": "Time (s)", "values": [0,1000,2000,3000,4000,5000,6000]}},
                "y": {"field": "e", "type": "quantitative",
                  "axis": {"orient": "right", "title": null, "labels": false, "domain": false, "values": [2,4,6,8], "tickColor": "#1b8798", "tickSize": -12, "labelPadding": 0}}
              }
            }
          ]
        },
        {
          "data": {"name": "vel"},
          "mark": {"type": "line", "strokeWidth": 1.6},
          "encoding": {
            "x": {"field": "t", "type": "quantitative", "scale": {"domain": [0, 6000], "nice": false}, "axis": {"title": "Time (s)", "values": [0,1000,2000,3000,4000,5000,6000]}},
            "y": {"field": "v", "type": "quantitative", "scale": {"domain": [0, 150], "nice": false},
              "axis": {"orient": "right", "title": "Velocity (km/h)", "titleAngle": 270, "titleBaseline": "top", "values": [0,50,100,150], "labelFlush": true, "domainColor": "#e0593a", "tickColor": "#e0593a", "labelColor": "#e0593a", "titleColor": "#e0593a", "tickSize": -12, "labelPadding": 18, "titlePadding": 34}},
            "color": {"datum": "Velocity"}
          }
        }
      ]
    },
    {
      "width": 1127, "height": 236,
      "title": {"text": "x 10¹²", "anchor": "start", "color": "#1b8798", "fontSize": 20, "fontWeight": "normal", "offset": -7, "dx": 2, "frame": "group"},
      "resolve": {"scale": {"y": "independent"}},
      "layer": [
        {
          "data": {"name": "pn"},
          "resolve": {"axis": {"y": "independent"}},
          "layer": [
            {
              "mark": {"type": "line", "strokeWidth": 1.4},
              "encoding": {
                "x": {"field": "t", "type": "quantitative", "scale": {"domain": [0, 6000], "nice": false}, "axis": {"title": "Time (s)", "values": [0,1000,2000,3000,4000,5000,6000]}},
                "y": {"field": "e", "type": "quantitative", "scale": {"domain": [0, 3], "nice": false},
                  "axis": {"orient": "left", "title": "Instantaneous PN (#/s)", "values": [0,1,2,3], "domainColor": "#1b8798", "tickColor": "#1b8798", "labelColor": "#1b8798", "titleColor": "#1b8798", "tickSize": -12, "labelPadding": 26, "titlePadding": 25}},
                "color": {"datum": "Instantaneous PN", "scale": {"domain": ["Instantaneous PN", "Velocity"], "range": ["#0b7a8c", "#dc4b27"]}}
              }
            },
            {
              "mark": {"type": "line", "opacity": 0},
              "encoding": {
                "x": {"field": "t", "type": "quantitative", "scale": {"domain": [0, 6000], "nice": false}, "axis": {"title": "Time (s)", "values": [0,1000,2000,3000,4000,5000,6000]}},
                "y": {"field": "e", "type": "quantitative",
                  "axis": {"orient": "right", "title": null, "labels": false, "domain": false, "values": [1,2], "tickColor": "#1b8798", "tickSize": -12, "labelPadding": 0}}
              }
            }
          ]
        },
        {
          "data": {"name": "vel"},
          "mark": {"type": "line", "strokeWidth": 1.6},
          "encoding": {
            "x": {"field": "t", "type": "quantitative", "scale": {"domain": [0, 6000], "nice": false}, "axis": {"title": "Time (s)", "values": [0,1000,2000,3000,4000,5000,6000]}},
            "y": {"field": "v", "type": "quantitative", "scale": {"domain": [0, 150], "nice": false},
              "axis": {"orient": "right", "title": "Velocity (km/h)", "titleAngle": 270, "titleBaseline": "top", "values": [0,50,100,150], "labelFlush": true, "domainColor": "#e0593a", "tickColor": "#e0593a", "labelColor": "#e0593a", "titleColor": "#e0593a", "tickSize": -12, "labelPadding": 18, "titlePadding": 34}},
            "color": {"datum": "Velocity"}
          }
        }
      ]
    }
  ]
}
